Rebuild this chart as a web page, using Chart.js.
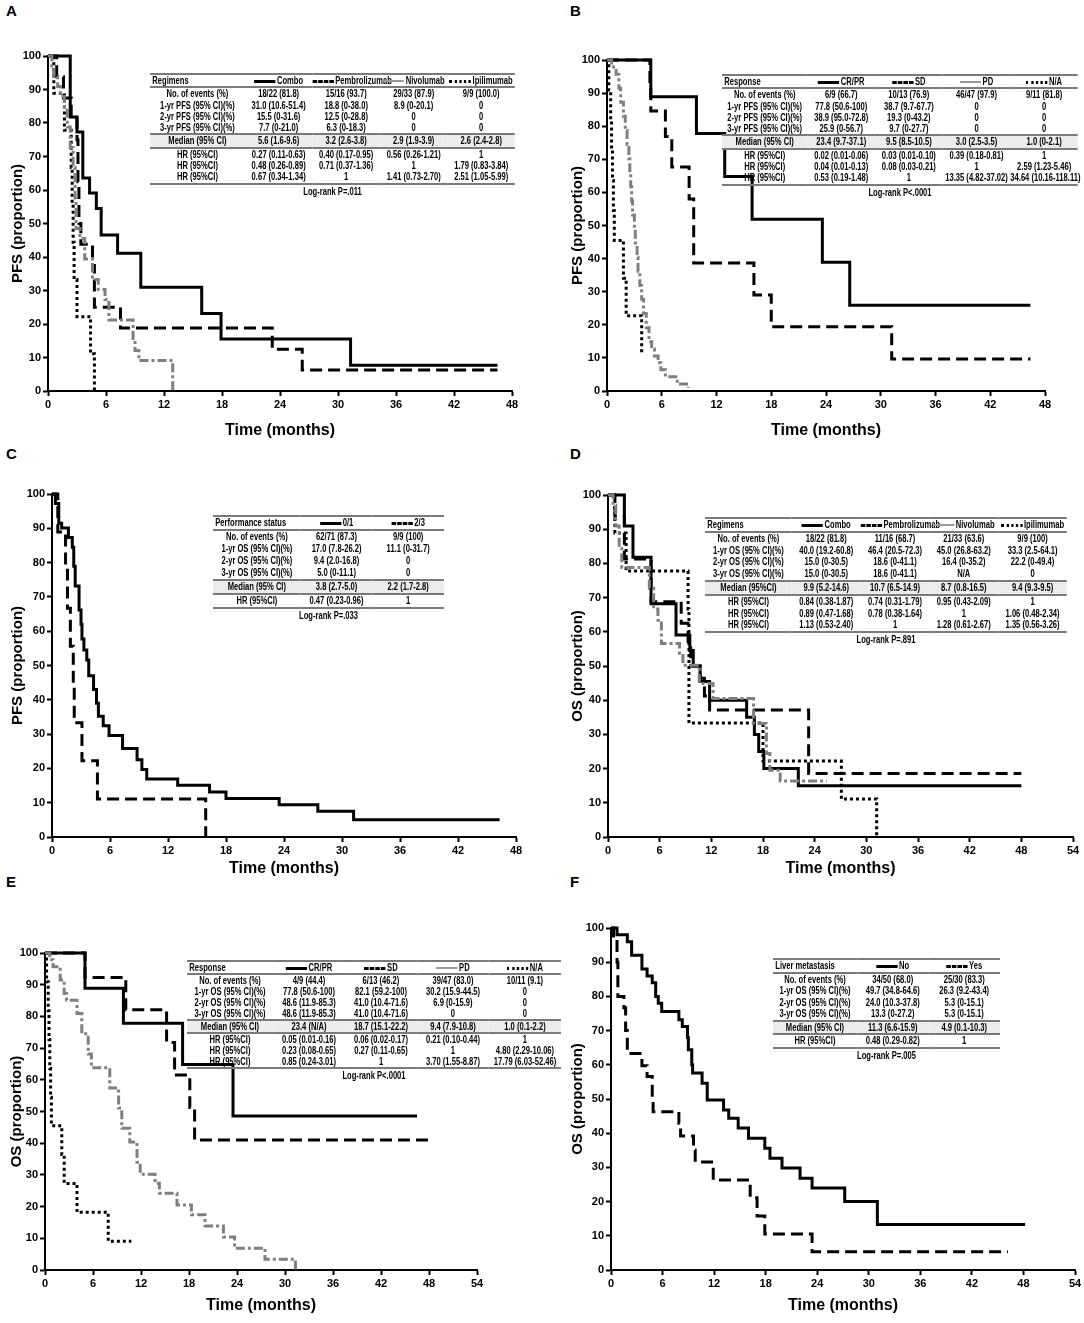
<!DOCTYPE html>
<html>
<head>
<meta charset="utf-8">
<script src="https://cdn.jsdelivr.net/npm/chart.js@4.4.1/dist/chart.umd.min.js"></script>
<style>
html, body { margin: 0; padding: 0; background: #fff; }
#fig { position: relative; width: 1084px; height: 1323px; overflow: hidden; }
.pan { position: absolute; }
.letter { position: absolute; font: bold 15px "Liberation Sans", Arial, sans-serif; color: #000; }
.tbl { position: absolute; font: bold 10px "Liberation Sans", Arial, sans-serif; color: #000; transform-origin: 0 0; }
.tbl table { border-collapse: collapse; width: 100%; table-layout: fixed; }
.tbl td { padding: 0; text-align: center; white-space: nowrap; overflow: visible; }
.tbl td.lab { text-align: left; padding-left: 3px; }
.tbl tr.hd td { border-top: 2px solid #7a7a7a; border-bottom: 2px solid #7a7a7a; }
.tbl tr.md td { border-top: 2px solid #7a7a7a; border-bottom: 2px solid #7a7a7a; background: #ececec; }
.tbl tr.last td { border-bottom: 2px solid #7a7a7a; }
.tbl .lr { text-align: center; margin-top: 1px; }
.ls { display: inline-block; width: 28px; height: 0; vertical-align: middle; margin-right: 2px; }
</style>
</head>
<body>
<div id="fig"></div>
<script>
// ---- curves (time in months, survival in %) ----
var comboA  = [[0,100],[2.3,81.8],[3.0,77.3],[3.6,63.6],[4.3,59.1],[5.0,54.5],[5.5,46.6],[7.2,41.1],[9.6,31.0],[15.9,23.1],[17.9,15.5],[31.3,7.7],[46.5,7.7]];
var pembroA = [[0,100],[0.9,93.8],[1.6,87.5],[2.4,81.3],[3.0,75],[3.1,62.5],[3.2,50],[3.4,43.8],[4.6,37.5],[4.8,25],[7.5,18.8],[23.2,12.5],[26.3,6.3],[46.5,6.3]];
var nivoA   = [[0,100],[0.4,97],[0.6,93.9],[1.0,90.9],[1.3,87.9],[1.7,84.8],[2.0,78.8],[2.3,72.7],[2.6,66.7],[2.8,57.6],[2.9,48.5],[3.3,45.5],[3.8,39.4],[4.6,33.3],[5.2,30.3],[5.9,27.3],[6.3,21.2],[8.8,15.2],[9.0,12.1],[9.4,9.1],[12.9,0]];
var ipiA    = [[0,100],[0.6,88.9],[1.7,77.8],[2.4,66.7],[2.5,55.6],[2.6,44.4],[2.7,33.3],[3.0,22.2],[4.4,11.1],[4.8,0]];

var crprB = [[0,100],[4.8,88.9],[9.8,77.8],[12.9,64.8],[15.9,51.9],[23.6,38.9],[26.6,25.9],[46.4,25.9]];
var sdB   = [[0,100],[4.7,92.3],[4.8,84.6],[6.4,76.9],[7.1,67.7],[9.0,58],[9.5,38.7],[16.1,29.0],[18.0,19.4],[31.2,9.7],[46.4,9.7]];
var pdB   = [[0,100],[0.5,97.9],[1.0,95.7],[1.3,91.5],[1.5,87.2],[1.8,83],[2.0,78.7],[2.2,74.5],[2.4,70.2],[2.5,66],[2.6,61.7],[2.7,57.4],[2.8,53.2],[3.0,48.9],[3.1,44.7],[3.3,40.4],[3.4,36.2],[3.6,31.9],[3.8,27.7],[4.0,23.4],[4.3,19.1],[4.6,14.9],[4.9,12.8],[5.2,10.6],[5.6,8.5],[5.9,6.4],[6.4,4.3],[7.7,2.1],[8.9,1.0]];
var naB   = [[0,100],[0.2,90.9],[0.4,81.8],[0.5,72.7],[0.6,63.6],[0.7,54.5],[0.8,45.5],[1.8,34.1],[2.1,22.7],[3.8,11.4],[3.9,11.4]];

var ps01C = [[0,100],[0.35,97.2],[0.7,91.5],[1.0,90.1],[1.7,87.3],[2.1,84.5],[2.25,78.9],[2.4,73.2],[2.8,66.2],[3.0,62],[3.1,57.7],[3.3,54.5],[3.6,51.6],[3.8,47],[4.3,43],[4.6,39],[4.8,35.2],[5.3,32.4],[5.9,29.6],[7.3,25.8],[8.8,22.5],[9.3,19.7],[9.8,16.9],[13.0,15.1],[16.3,13.1],[18.0,11.2],[23.5,9.4],[27.5,7.5],[31.2,5.0],[46.3,5.0]];
var ps23C = [[0,100],[0.6,88.9],[1.4,77.8],[1.6,66.7],[1.9,55.6],[2.2,44.4],[2.3,33.3],[3.1,22.2],[4.7,11.1],[15.9,0]];

var comboD  = [[0,100],[1.9,90.9],[2.9,81.8],[5.0,68.2],[7.9,59.1],[9.5,54.5],[9.9,50],[10.7,45.5],[11.8,40],[16.1,35],[17.0,30],[17.5,25],[18.1,20],[22.1,15],[48,15]];
var pembroD = [[0,100],[0.8,93.8],[1.9,81.3],[5.0,68.8],[8.5,62.5],[9.3,56.3],[9.6,50],[10.7,46.4],[11.2,41.2],[11.8,37.1],[23.3,18.6],[48,18.6]];
var nivoD   = [[0,100],[0.6,97],[0.9,90.9],[1.3,84.8],[1.6,78.8],[4.8,72.7],[5.3,66.7],[5.8,63.4],[6.2,56.6],[8.3,53.7],[8.7,50.2],[10.6,44.9],[12.2,40.5],[16.9,33.2],[18.4,24.4],[18.8,19.5],[20.0,16.4],[25.4,16.4]];
var ipiD    = [[0,100],[0.8,88.9],[2.1,77.8],[9.3,66.7],[9.4,33.3],[18.0,22.2],[27.1,11.1],[31.2,0]];

var crprE = [[0,100],[5.0,88.9],[9.8,77.8],[17.2,64.8],[23.5,48.6],[46.5,48.6]];
var sdE   = [[0,100],[5.0,92.3],[10.1,82.1],[15.2,71.8],[16.2,61.5],[18.1,51.3],[18.7,41.0],[48.3,41.0]];
var pdE   = [[0,100],[0.6,97.9],[1.0,95.7],[1.9,91.5],[2.4,87.2],[2.7,85.1],[4.0,80.9],[4.6,74.5],[5.4,68.1],[5.8,63.8],[8.1,57.4],[9.2,51.1],[9.6,44.7],[10.6,40.4],[11.5,34],[11.9,30.2],[13.75,27.4],[14.3,24.2],[16.5,20.5],[18.3,17.4],[20.0,13.9],[22.3,10.4],[23.7,6.9],[27.5,3.4],[31.3,0]];
var naE   = [[0,100],[0.2,90.9],[0.4,81.8],[0.5,72.7],[0.6,63.6],[0.7,54.5],[0.8,45.5],[2.1,36.4],[2.4,27.3],[4.0,18.2],[7.9,9.1],[10.8,9.1]];

var noF  = [[0,100],[0.7,98],[1.9,96],[2.4,92],[3.6,88],[4.2,86],[4.8,84],[5.2,80],[5.5,78],[5.9,75.6],[7.9,73.2],[8.3,71.2],[8.9,68],[9.0,64.4],[9.4,60],[9.5,57.6],[10.6,54.6],[11.2,49.7],[13.1,46.8],[13.7,44.4],[14.8,41.5],[16.0,38.5],[17.9,35.6],[18.5,32.7],[19.9,29.8],[22.0,26.8],[23.4,24.0],[27.2,20.0],[31.0,13.3],[48.2,13.3]];
var yesF = [[0,100],[0.3,96.7],[0.7,90],[0.8,80],[1.5,76.7],[1.7,70],[1.9,63.3],[3.6,59.7],[4.2,56.6],[4.8,50],[4.9,46.3],[7.9,42.9],[8.1,39.2],[9.6,35.1],[9.8,31.6],[11.9,26.3],[16.2,21.1],[17.0,15.8],[17.9,10.5],[23.4,5.3],[46.2,5.3]];

// ---- axis tick labels ----
var xTicks48 = [0, 6, 12, 18, 24, 30, 36, 42, 48];
var xTicks54 = [0, 6, 12, 18, 24, 30, 36, 42, 48, 54];
var yTicks   = [0, 10, 20, 30, 40, 50, 60, 70, 80, 90, 100];

// ---- table texts ----
var regimenNames  = ["Combo", "Pembrolizumab", "Nivolumab", "Ipilimumab"];
var responseNames = ["CR/PR", "SD", "PD", "N/A"];
var psNames       = ["0/1", "2/3"];
var liverNames    = ["No", "Yes"];

var rowsA = [
  ["No. of events (%)", "18/22 (81.8)", "15/16 (93.7)", "29/33 (87.9)", "9/9 (100.0)"],
  ["1-yr PFS (95% CI)(%)", "31.0 (10.6-51.4)", "18.8 (0-38.0)", "8.9 (0-20.1)", "0"],
  ["2-yr PFS (95% CI)(%)", "15.5 (0-31.6)", "12.5 (0-28.8)", "0", "0"],
  ["3-yr PFS (95% CI)(%)", "7.7 (0-21.0)", "6.3 (0-18.3)", "0", "0"]];
var medA = ["Median (95% CI)", "5.6 (1.6-9.6)", "3.2 (2.6-3.8)", "2.9 (1.9-3.9)", "2.6 (2.4-2.8)"];
var hrA = [
  ["HR (95%CI)", "0.27 (0.11-0.63)", "0.40 (0.17-0.95)", "0.56 (0.26-1.21)", "1"],
  ["HR (95%CI)", "0.48 (0.26-0.89)", "0.71 (0.37-1.36)", "1", "1.79 (0.83-3.84)"],
  ["HR (95%CI)", "0.67 (0.34-1.34)", "1", "1.41 (0.73-2.70)", "2.51 (1.05-5.99)"]];

var rowsB = [
  ["No. of events (%)", "6/9 (66.7)", "10/13 (76.9)", "46/47 (97.9)", "9/11 (81.8)"],
  ["1-yr PFS (95% CI)(%)", "77.8 (50.6-100)", "38.7 (9.7-67.7)", "0", "0"],
  ["2-yr PFS (95% CI)(%)", "38.9 (95.0-72.8)", "19.3 (0-43.2)", "0", "0"],
  ["3-yr PFS (95% CI)(%)", "25.9 (0-56.7)", "9.7 (0-27.7)", "0", "0"]];
var medB = ["Median (95% CI)", "23.4 (9.7-37.1)", "9.5 (8.5-10.5)", "3.0 (2.5-3.5)", "1.0 (0-2.1)"];
var hrB = [
  ["HR (95%CI)", "0.02 (0.01-0.06)", "0.03 (0.01-0.10)", "0.39 (0.18-0.81)", "1"],
  ["HR (95%CI)", "0.04 (0.01-0.13)", "0.08 (0.03-0.21)", "1", "2.59 (1.23-5.46)"],
  ["HR (95%CI)", "0.53 (0.19-1.48)", "1", "13.35 (4.82-37.02)", "34.64 (10.16-118.11)"]];

var rowsC = [
  ["No. of events (%)", "62/71 (87.3)", "9/9 (100)"],
  ["1-yr OS (95% CI)(%)", "17.0 (7.8-26.2)", "11.1 (0-31.7)"],
  ["2-yr OS (95% CI)(%)", "9.4 (2.0-16.8)", "0"],
  ["3-yr OS (95% CI)(%)", "5.0 (0-11.1)", "0"]];
var medC = ["Median (95% CI)", "3.8 (2.7-5.0)", "2.2 (1.7-2.8)"];
var hrC = [["HR (95%CI)", "0.47 (0.23-0.96)", "1"]];

var rowsD = [
  ["No. of events (%)", "18/22 (81.8)", "11/16 (68.7)", "21/33 (63.6)", "9/9 (100)"],
  ["1-yr OS (95% CI)(%)", "40.0 (19.2-60.8)", "46.4 (20.5-72.3)", "45.0 (26.8-63.2)", "33.3 (2.5-64.1)"],
  ["2-yr OS (95% CI)(%)", "15.0 (0-30.5)", "18.6 (0-41.1)", "16.4 (0-35.2)", "22.2 (0-49.4)"],
  ["3-yr OS (95% CI)(%)", "15.0 (0-30.5)", "18.6 (0-41.1)", "N/A", "0"]];
var medD = ["Median (95%CI)", "9.9 (5.2-14.6)", "10.7 (6.5-14.9)", "8.7 (0.8-16.5)", "9.4 (9.3-9.5)"];
var hrD = [
  ["HR (95%CI)", "0.84 (0.38-1.87)", "0.74 (0.31-1.79)", "0.95 (0.43-2.09)", "1"],
  ["HR (95%CI)", "0.89 (0.47-1.68)", "0.78 (0.38-1.64)", "1", "1.06 (0.48-2.34)"],
  ["HR (95%CI)", "1.13 (0.53-2.40)", "1", "1.28 (0.61-2.67)", "1.35 (0.56-3.26)"]];

var rowsE = [
  ["No. of events (%)", "4/9 (44.4)", "6/13 (46.2)", "39/47 (83.0)", "10/11 (9.1)"],
  ["1-yr OS (95% CI)(%)", "77.8 (50.6-100)", "82.1 (59.2-100)", "30.2 (15.9-44.5)", "0"],
  ["2-yr OS (95% CI)(%)", "48.6 (11.9-85.3)", "41.0 (10.4-71.6)", "6.9 (0-15.9)", "0"],
  ["3-yr OS (95% CI)(%)", "48.6 (11.9-85.3)", "41.0 (10.4-71.6)", "0", "0"]];
var medE = ["Median (95% CI)", "23.4 (N/A)", "18.7 (15.1-22.2)", "9.4 (7.9-10.8)", "1.0 (0.1-2.2)"];
var hrE = [
  ["HR (95%CI)", "0.05 (0.01-0.16)", "0.06 (0.02-0.17)", "0.21 (0.10-0.44)", "1"],
  ["HR (95%CI)", "0.23 (0.08-0.65)", "0.27 (0.11-0.65)", "1", "4.80 (2.29-10.06)"],
  ["HR (95%CI)", "0.85 (0.24-3.01)", "1", "3.70 (1.55-8.87)", "17.79 (6.03-52.46)"]];

var rowsF = [
  ["No. of events (%)", "34/50 (68.0)", "25/30 (83.3)"],
  ["1-yr OS (95% CI)(%)", "49.7 (34.8-64.6)", "26.3 (9.2-43.4)"],
  ["2-yr OS (95% CI)(%)", "24.0 (10.3-37.8)", "5.3 (0-15.1)"],
  ["3-yr OS (95% CI)(%)", "13.3 (0-27.2)", "5.3 (0-15.1)"]];
var medF = ["Median (95% CI)", "11.3 (6.6-15.9)", "4.9 (0.1-10.3)"];
var hrF = [["HR (95%CI)", "0.48 (0.29-0.82)", "1"]];

// ---- line styles ----
var FONT = '"Liberation Sans", Arial, sans-serif';
var GRAY = "#7f7f7f";
var stSolid  = { color: "#000", dash: [],           css: "border-top:3px solid #000" };
var stDash   = { color: "#000", dash: [12, 6],      css: "border-top:3px dashed #000" };
var stDashDt = { color: GRAY,   dash: [9, 3, 3, 3], css: "border-top:2px solid #999" };
var stDot    = { color: "#000", dash: [3, 3],       css: "border-top:3px dotted #000" };

var SQX = 0.76;   // horizontal squeeze of the table text (condensed look)

var fig = document.getElementById("fig");

function addLetter(txt, x, y) {
  var d = document.createElement("div");
  d.className = "letter";
  d.style.left = x + "px"; d.style.top = y + "px";
  d.textContent = txt;
  fig.appendChild(d);
}

// cx,cy,cw,ch = canvas box; L,T,R,B = plot area in page px
function kmPanel(p) {
  var c = document.createElement("canvas");
  c.className = "pan";
  c.width = p.cw; c.height = p.ch;
  c.style.left = p.cx + "px"; c.style.top = p.cy + "px";
  fig.appendChild(c);
  var ticks = p.xMax === 54 ? xTicks54 : xTicks48;
  var datasets = p.series.map(function(s) {
    return {
      data: s.pts.map(function(q) { return { x: q[0], y: q[1] }; }),
      borderColor: s.st.color, borderDash: s.st.dash, borderWidth: 3,
      borderCapStyle: "butt", stepped: true, pointRadius: 0, fill: false, clip: 4
    };
  });
  new Chart(c, {
    type: "line",
    data: { datasets: datasets },
    options: {
      responsive: false, animation: false, devicePixelRatio: 1,
      layout: { padding: { left: 0, bottom: 0, top: p.T - p.cy, right: p.cx + p.cw - p.R } },
      plugins: { legend: { display: false }, tooltip: { enabled: false } },
      scales: {
        x: {
          type: "linear", min: 0, max: p.xMax,
          afterFit: function(s) { s.height = p.cy + p.ch - p.B; },
          afterBuildTicks: function(s) { s.ticks = ticks.map(function(v) { return { value: v }; }); },
          ticks: { color: "#000", font: { family: FONT, size: 11, weight: "bold" }, padding: 2, maxRotation: 0, autoSkip: false },
          grid: { drawOnChartArea: false, drawTicks: true, tickLength: 5, tickWidth: 2, color: "#000" },
          border: { color: "#000", width: 2 },
          title: { display: true, text: "Time (months)", color: "#000", font: { family: FONT, size: 16, weight: "bold" }, padding: { top: 0, bottom: p.xtPad } }
        },
        y: {
          min: 0, max: 100,
          afterFit: function(s) { s.width = p.L - p.cx; },
          afterBuildTicks: function(s) { s.ticks = yTicks.map(function(v) { return { value: v }; }); },
          ticks: { color: "#000", font: { family: FONT, size: 11, weight: "bold" }, padding: 2 },
          grid: { drawOnChartArea: false, drawTicks: true, tickLength: 5, tickWidth: 2, color: "#000" },
          border: { color: "#000", width: 2 },
          title: { display: true, text: p.yTitle, color: "#000", font: { family: FONT, size: 15, weight: "bold" }, padding: { top: p.ytPad, bottom: 0 } }
        }
      }
    }
  });
}

function kmTable(t) {
  var d = document.createElement("div");
  d.className = "tbl";
  d.style.left = t.x + "px"; d.style.top = t.y + "px";
  d.style.width = (t.w / SQX) + "px";
  d.style.transform = "scaleX(" + SQX + ")";
  var n = t.names.length;
  var other = (100 - t.first) / n;
  var h = '<table><colgroup><col style="width:' + t.first + '%">';
  for (var i = 0; i < n; i++) h += '<col style="width:' + other + '%">';
  h += '</colgroup>';
  var rh = 'style="height:' + t.rh + 'px;line-height:' + t.rh + 'px"';
  h += '<tr class="hd" ' + rh + '><td class="lab">' + t.head + '</td>';
  t.names.forEach(function(nm, i) {
    h += '<td><span class="ls" style="' + t.styles[i].css + '"></span>' + nm + '</td>';
  });
  h += '</tr>';
  function row(r, cls) {
    var s = '<tr class="' + cls + '" ' + rh + '>';
    r.forEach(function(v) { s += '<td>' + v + '</td>'; });
    return s + '</tr>';
  }
  t.rows.forEach(function(r) { h += row(r, ""); });
  h += row(t.med, "md");
  t.hr.forEach(function(r, i) { h += row(r, i === t.hr.length - 1 ? "last" : ""); });
  h += '</table><div class="lr">' + t.lr + '</div>';
  d.innerHTML = h;
  fig.appendChild(d);
}

addLetter("A", 6, 2);   addLetter("B", 570, 2);
addLetter("C", 6, 445); addLetter("D", 570, 445);
addLetter("E", 6, 873); addLetter("F", 570, 873);

kmPanel({ cx: 0, cy: 0, cw: 542, ch: 445, L: 48, T: 56, R: 512, B: 391, xMax: 48, yTitle: "PFS (proportion)", ytPad: 9, xtPad: 5,
  series: [{ pts: nivoA, st: stDashDt }, { pts: ipiA, st: stDot }, { pts: pembroA, st: stDash }, { pts: comboA, st: stSolid }] });
kmPanel({ cx: 542, cy: 0, cw: 542, ch: 445, L: 607, T: 60, R: 1045, B: 391, xMax: 48, yTitle: "PFS (proportion)", ytPad: 27, xtPad: 5,
  series: [{ pts: pdB, st: stDashDt }, { pts: naB, st: stDot }, { pts: sdB, st: stDash }, { pts: crprB, st: stSolid }] });
kmPanel({ cx: 0, cy: 445, cw: 542, ch: 440, L: 52, T: 494, R: 516, B: 837, xMax: 48, yTitle: "PFS (proportion)", ytPad: 9, xtPad: 7,
  series: [{ pts: ps23C, st: stDash }, { pts: ps01C, st: stSolid }] });
kmPanel({ cx: 542, cy: 445, cw: 542, ch: 440, L: 608, T: 495, R: 1073, B: 837, xMax: 54, yTitle: "OS (proportion)", ytPad: 27, xtPad: 7,
  series: [{ pts: nivoD, st: stDashDt }, { pts: ipiD, st: stDot }, { pts: pembroD, st: stDash }, { pts: comboD, st: stSolid }] });
kmPanel({ cx: 0, cy: 885, cw: 542, ch: 438, L: 45, T: 953, R: 477, B: 1270, xMax: 54, yTitle: "OS (proportion)", ytPad: 8, xtPad: 8,
  series: [{ pts: pdE, st: stDashDt }, { pts: naE, st: stDot }, { pts: sdE, st: stDash }, { pts: crprE, st: stSolid }] });
kmPanel({ cx: 542, cy: 885, cw: 542, ch: 438, L: 611, T: 928, R: 1075, B: 1270, xMax: 54, yTitle: "OS (proportion)", ytPad: 27, xtPad: 8,
  series: [{ pts: yesF, st: stDash }, { pts: noF, st: stSolid }] });

var st4 = [stSolid, stDash, stDashDt, stDot];
var st2 = [stSolid, stDash];
kmTable({ x: 150, y: 73, w: 365, first: 26, rh: 11.3, head: "Regimens", names: regimenNames, styles: st4, rows: rowsA, med: medA, hr: hrA, lr: "Log-rank P=.011" });
kmTable({ x: 722, y: 74, w: 356, first: 24, rh: 11.3, head: "Response", names: responseNames, styles: st4, rows: rowsB, med: medB, hr: hrB, lr: "Log-rank P&lt;.0001" });
kmTable({ x: 213, y: 515, w: 231, first: 38, rh: 12, head: "Performance status", names: psNames, styles: st2, rows: rowsC, med: medC, hr: hrC, lr: "Log-rank P=.033" });
kmTable({ x: 705, y: 517, w: 362, first: 24, rh: 11.8, head: "Regimens", names: regimenNames, styles: st4, rows: rowsD, med: medD, hr: hrD, lr: "Log-rank P=.891" });
kmTable({ x: 187, y: 960, w: 374, first: 23, rh: 11, head: "Response", names: responseNames, styles: st4, rows: rowsE, med: medE, hr: hrE, lr: "Log-rank P&lt;.0001" });
kmTable({ x: 773, y: 958, w: 227, first: 37, rh: 11.5, head: "Liver metastasis", names: liverNames, styles: st2, rows: rowsF, med: medF, hr: hrF, lr: "Log-rank P=.005" });
</script>
</body>
</html>
